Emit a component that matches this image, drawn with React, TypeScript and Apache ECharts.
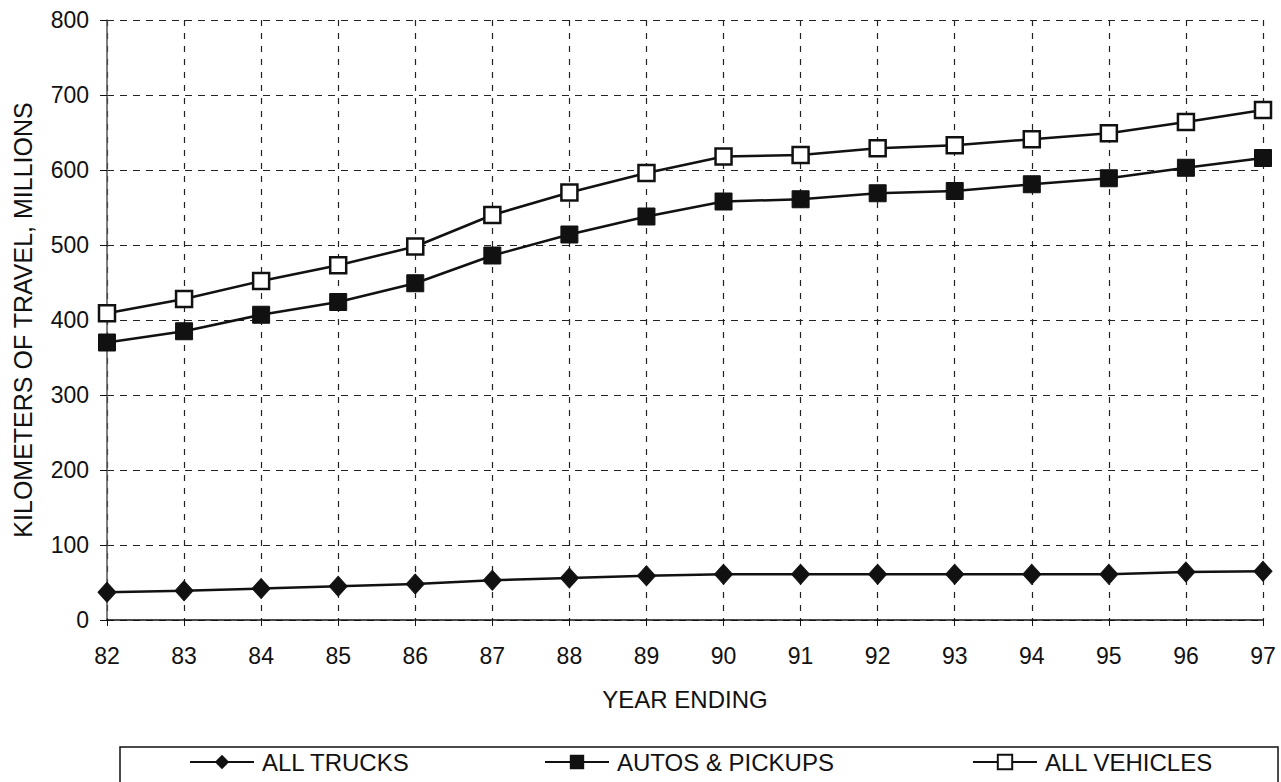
import React, { useEffect, useRef } from "react";
import * as echarts from "echarts";

const years = ["82", "83", "84", "85", "86", "87", "88", "89", "90", "91", "92", "93", "94", "95", "96", "97"];
const allTrucks = [37, 39, 42, 45, 48, 53, 56, 59, 61, 61, 61, 61, 61, 61, 64, 65];
const autosPickups = [370, 385, 407, 424, 449, 486, 514, 538, 558, 561, 569, 572, 581, 589, 603, 616];
const allVehicles = [409, 428, 452, 473, 498, 540, 570, 596, 618, 620, 629, 633, 641, 649, 664, 680];
const seriesNames = ["ALL TRUCKS", "AUTOS & PICKUPS", "ALL VEHICLES"];

const FONT = "'Liberation Sans', Arial, sans-serif";
const INK = "#111";

export default function App() {
  const ref = useRef<HTMLDivElement>(null);
  useEffect(() => {
    if (!ref.current) return;
    const chart = echarts.init(ref.current, null, { renderer: "svg" });
    const legendBase = {
      orient: "horizontal",
      top: 750,
      padding: 0,
      itemWidth: 64,
      itemHeight: 18,
      itemGap: 0,
      textStyle: { fontFamily: FONT, fontSize: 24, color: INK, padding: [0, 0, 0, 3] },
    };
    chart.setOption({
      animation: false,
      backgroundColor: "#fff",
      textStyle: { fontFamily: FONT },
      grid: { left: 107, right: 18, top: 20, bottom: 162, containLabel: false },
      legend: [
        { ...legendBase, left: 189, data: [seriesNames[0]] },
        { ...legendBase, left: 544, data: [seriesNames[1]] },
        { ...legendBase, left: 972, data: [seriesNames[2]] },
      ],
      graphic: [
        {
          type: "rect",
          shape: { x: 120, y: 747, width: 1158, height: 60 },
          style: { fill: "none", stroke: INK, lineWidth: 1.5 },
          silent: true,
        },
      ],
      xAxis: {
        type: "category",
        data: years,
        boundaryGap: false,
        name: "YEAR ENDING",
        nameLocation: "middle",
        nameGap: 67,
        nameTextStyle: { fontFamily: FONT, fontSize: 24, color: INK },
        axisLine: { show: true, lineStyle: { color: INK, width: 1.5 } },
        axisTick: { show: true, length: 6, alignWithLabel: true, lineStyle: { color: INK } },
        axisLabel: { fontFamily: FONT, fontSize: 23, color: INK, margin: 24 },
        splitLine: { show: true, lineStyle: { color: "#222", type: [6, 7], width: 1.2 } },
      },
      yAxis: {
        type: "value",
        min: 0,
        max: 800,
        interval: 100,
        name: "KILOMETERS OF TRAVEL, MILLIONS",
        nameLocation: "middle",
        nameGap: 72,
        nameRotate: 90,
        nameTextStyle: { fontFamily: FONT, fontSize: 25, color: INK },
        axisLine: { show: true, lineStyle: { color: "#555", width: 1.5 } },
        axisTick: { show: true, length: 7, lineStyle: { color: INK } },
        axisLabel: { fontFamily: FONT, fontSize: 23, color: INK, margin: 18 },
        splitLine: { show: true, lineStyle: { color: "#222", type: [7, 6], width: 1.2 } },
      },
      series: [
        {
          name: seriesNames[0],
          type: "line",
          data: allTrucks,
          symbol: "diamond",
          symbolSize: [18, 20],
          showAllSymbol: true,
          lineStyle: { color: INK, width: 2.5 },
          itemStyle: { color: INK, borderColor: INK },
        },
        {
          name: seriesNames[1],
          type: "line",
          data: autosPickups,
          symbol: "rect",
          symbolSize: 17,
          showAllSymbol: true,
          lineStyle: { color: INK, width: 2.5 },
          itemStyle: { color: INK, borderColor: INK },
        },
        {
          name: seriesNames[2],
          type: "line",
          data: allVehicles,
          symbol: "rect",
          symbolSize: 16,
          showAllSymbol: true,
          lineStyle: { color: INK, width: 2.5 },
          itemStyle: { color: "#fff", borderColor: INK, borderWidth: 2.5 },
        },
      ],
    });
    return () => chart.dispose();
  }, []);
  return (
    <div
      ref={ref}
      style={{ position: "absolute", left: 0, top: 0, width: 1281, height: 782, background: "#fff" }}
    />
  );
}
